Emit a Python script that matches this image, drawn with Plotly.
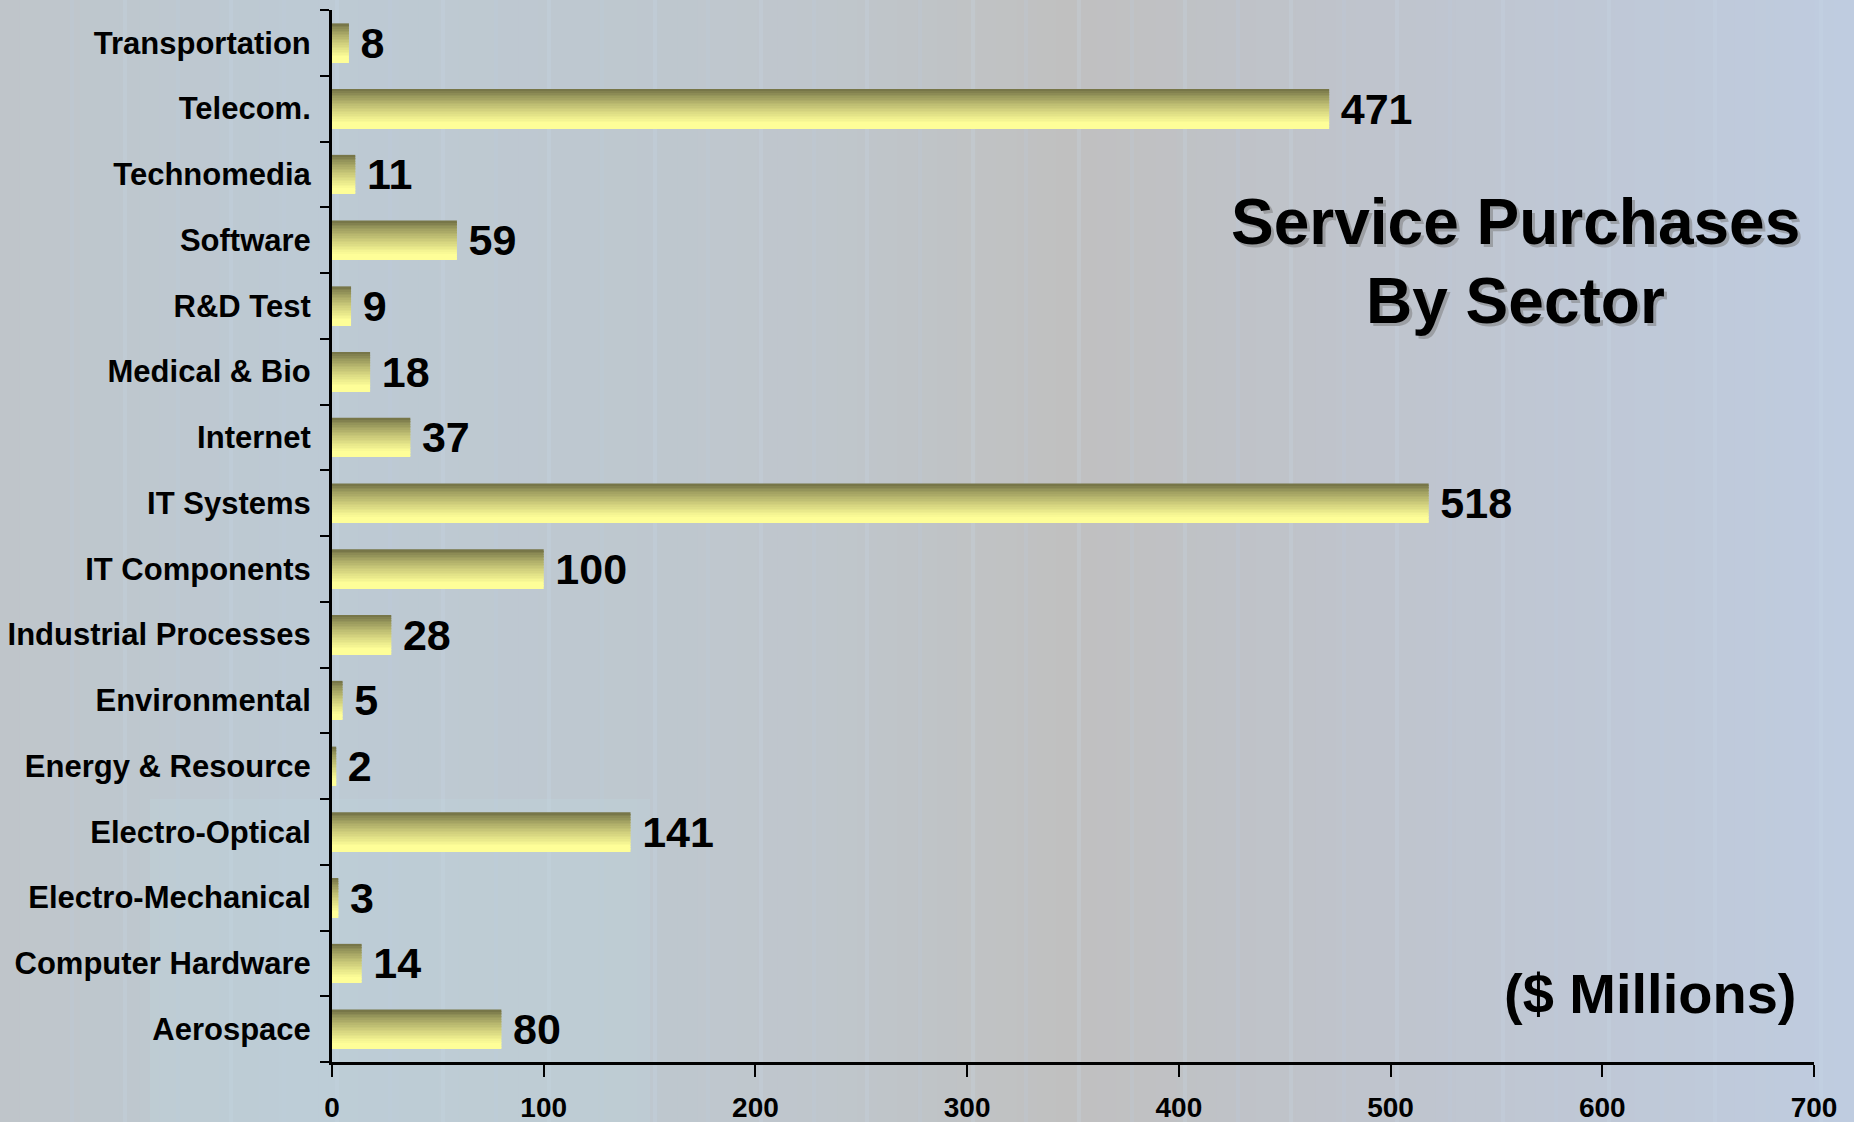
import plotly.graph_objects as go

# ---------------- data ----------------
sectors = ["Aerospace", "Computer Hardware", "Electro-Mechanical", "Electro-Optical",
           "Energy & Resource", "Environmental", "Industrial Processes", "IT Components",
           "IT Systems", "Internet", "Medical & Bio", "R&D Test", "Software",
           "Technomedia", "Telecom.", "Transportation"]
purchases = [80, 14, 3, 141, 2, 5, 28, 100, 518, 37, 18, 9, 59, 11, 471, 8]
x_ticks = [0, 100, 200, 300, 400, 500, 600, 700]
title_lines = ["Service Purchases", "By Sector"]
unit_label = "($ Millions)"

# ---------------- geometry / style ----------------
W, H = 1854, 1122
ML, MR, MT, MB = 332, 40, 10, 60
PW = W - ML - MR
PH = H - MT - MB
FONT = "Liberation Sans, Arial, sans-serif"
BAR_W = 0.59
N_SLICES = 24

def lerp(c1, c2, t):
    return tuple(round(a + (b - a) * t) for a, b in zip(c1, c2))

def hexc(c):
    return "#%02x%02x%02x" % c

dark = (0x6e, 0x6d, 0x43)
light = (0xfe, 0xfe, 0x98)

fig = go.Figure()

# gradient bars: horizontal slices overlaid, top dark -> bottom light
sw = BAR_W / N_SLICES
for i in range(N_SLICES):
    t_from_top = 1 - (i + 0.5) / N_SLICES
    t = min(1.0, t_from_top / 0.85) ** 0.75
    col = hexc(lerp(dark, light, t))
    fig.add_trace(go.Bar(
        y=sectors, x=purchases, orientation="h",
        width=sw * 1.15, offset=-BAR_W / 2 + i * sw - (sw * 0.075 if i > 0 else 0),
        marker=dict(color=col, line=dict(width=0)),
        hoverinfo="skip", showlegend=False,
    ))

# value labels
fig.add_trace(go.Bar(
    y=sectors, x=purchases, orientation="h", width=BAR_W,
    marker=dict(color="rgba(0,0,0,0)", line=dict(width=0)),
    text=["\u2009" + str(v) for v in purchases], textposition="outside",
    textfont=dict(family=FONT, size=43, color="black", weight="bold"),
    constraintext="none", cliponaxis=False, showlegend=False,
    hovertemplate="%{y}: %{x}<extra></extra>",
))

# ---------------- background ----------------
stops = [(0, (0xbf, 0xc5, 0xca)), (300, (0xbd, 0xca, 0xd4)), (830, (0xbf, 0xc6, 0xcc)),
         (1070, (0xc0, 0xc0, 0xc0)), (1300, (0xbf, 0xc3, 0xca)), (W, (0xbf, 0xcc, 0xe0))]

def bg_at(px):
    for (a, ca), (b, cb) in zip(stops[:-1], stops[1:]):
        if a <= px <= b:
            return lerp(ca, cb, (px - a) / (b - a))
    return stops[-1][1]

shapes = []
n_strips = 93
for k in range(n_strips):
    x0 = k * W / n_strips
    x1 = (k + 1) * W / n_strips + 1
    c = bg_at((x0 + x1) / 2)
    shapes.append(dict(type="rect", xref="paper", yref="paper",
                       x0=(x0 - ML) / PW, x1=(x1 - ML) / PW, y0=-1, y1=2,
                       fillcolor=hexc(c), line=dict(width=0), layer="below"))
# faint vertical streaks
for k, px in enumerate(range(70, W, 53)):
    shapes.append(dict(type="rect", xref="paper", yref="paper",
                       x0=(px - ML) / PW, x1=(px + 4 - ML) / PW, y0=-1, y1=2,
                       fillcolor="rgba(200,215,232,0.25)" if k % 2 else "rgba(190,205,225,0.18)",
                       line=dict(width=0), layer="below"))
# lighter blue tint lower-left
shapes.append(dict(type="rect", xref="paper", yref="paper",
                   x0=(150 - ML) / PW, x1=(650 - ML) / PW, y0=-1, y1=0.25,
                   fillcolor="rgba(190,215,225,0.25)", line=dict(width=0), layer="below"))

def py(ypx):
    return (MT + PH - ypx) / PH

annotations = []
tx = (1515 - ML) / PW
for txt, ypx in zip(title_lines, [222, 301]):
    annotations.append(dict(text=txt, xref="paper", yref="paper", x=tx, y=py(ypx),
                            xanchor="center", yanchor="middle", showarrow=False,
                            xshift=3, yshift=-3,
                            font=dict(family=FONT, size=64, color="rgba(120,120,120,0.5)", weight="bold")))
    annotations.append(dict(text=txt, xref="paper", yref="paper", x=tx, y=py(ypx),
                            xanchor="center", yanchor="middle", showarrow=False,
                            font=dict(family=FONT, size=64, color="black", weight="bold")))
annotations.append(dict(text=unit_label, xref="paper", yref="paper", x=(1650 - ML) / PW, y=py(993),
                        xanchor="center", yanchor="middle", showarrow=False,
                        font=dict(family=FONT, size=56, color="black", weight="bold")))

fig.update_layout(
    width=W, height=H,
    margin=dict(l=ML, r=MR, t=MT, b=MB),
    barmode="overlay",
    paper_bgcolor="#c0c6cc", plot_bgcolor="rgba(0,0,0,0)",
    shapes=shapes, annotations=annotations,
    showlegend=False,
    xaxis=dict(range=[0, 700], tickvals=x_ticks, ticks="outside", ticklen=12, tickwidth=2,
               tickcolor="black", showline=True, linecolor="black", linewidth=3,
               showgrid=False, zeroline=False, ticklabelstandoff=6, automargin=False,
               tickfont=dict(family=FONT, size=28, color="black", weight="bold")),
    yaxis=dict(categoryorder="array", categoryarray=sectors, range=[-0.5, 15.5],
               ticks="outside", tickson="boundaries", ticklen=9, tickwidth=2, tickcolor="black",
               showline=True, linecolor="black", linewidth=3, showgrid=False, zeroline=False,
               ticklabelstandoff=12, automargin=False,
               tickfont=dict(family=FONT, size=31, color="black", weight="bold")),
)

fig.write_html("out.html", config={"displayModeBar": False},
               post_script="document.body.style.margin='0';document.body.style.overflow='hidden';")
